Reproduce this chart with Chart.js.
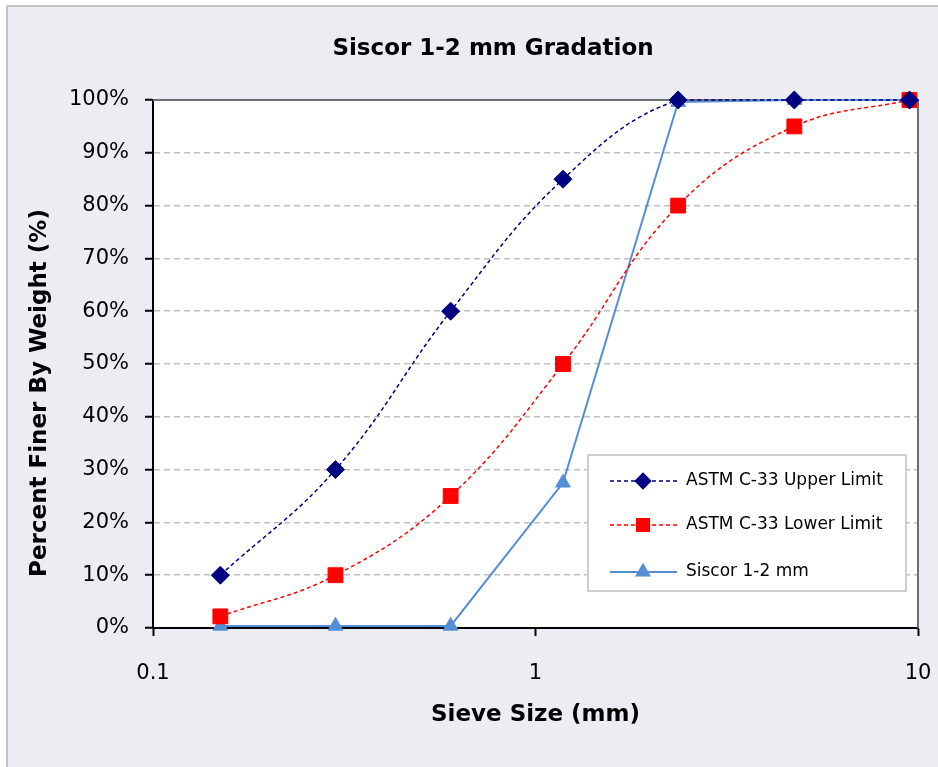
<!DOCTYPE html>
<html>
<head>
<meta charset="utf-8">
<script src="https://cdn.jsdelivr.net/npm/chart.js@4"></script>
<style>
  body { margin: 0; background: #fff; }
  #frame { position: absolute; left: 6px; top: 5px; width: 940px; height: 770px;
           background: #ECEDF3; border-left: 2px solid #C4C4C8; border-top: 2px solid #C4C4C8; }
  #wrap { position: absolute; left: 0; top: 0; width: 938px; height: 767px; }
</style>
</head>
<body>
<div id="frame"></div>
<div id="wrap"><canvas id="gradChart"></canvas></div>
<script>
// Sieve sizes (mm) and percent passing
const sieveSizes = [0.15, 0.3, 0.6, 1.18, 2.36, 4.75, 9.5];
const upperLimit = [10, 30, 60, 85, 100, 100, 100];
const lowerLimit = [2.2, 10, 25, 50, 80, 95, 100];
const siscor = [0.4, 0.4, 0.4, 27.5, 99.6, 100, 100];
const xTickValues = [0.1, 1, 10];
const yTickValues = [0, 10, 20, 30, 40, 50, 60, 70, 80, 90, 100];

const chartTitle = 'Siscor 1-2 mm Gradation';
const yTitle = 'Percent Finer By Weight (%)';
const xTitle = 'Sieve Size (mm)';

const fontFamily = "'DejaVu Sans', Verdana, sans-serif";

const toPoints = function (xs, ys) {
    let pts = [];
    for (var i = 0; i < xs.length; i++) {
        pts.push({x: xs[i], y: ys[i]});
    }
    return pts;
};

// plot area background + border, titles, and legend box inside the plot
const plotFrame = {
    id: 'plotFrame',
    beforeDraw(chart) {
        const {ctx, chartArea: a} = chart;
        ctx.save();
        ctx.fillStyle = '#fff';
        ctx.fillRect(a.left, a.top, a.right - a.left, a.bottom - a.top);
        ctx.restore();
    },
    beforeDatasetsDraw(chart) {
        const {ctx, chartArea: a} = chart;
        ctx.save();
        ctx.strokeStyle = '#6E6E6E';
        ctx.lineWidth = 2;
        ctx.beginPath();
        ctx.moveTo(a.left, a.top);
        ctx.lineTo(a.right, a.top);
        ctx.lineTo(a.right, a.bottom);
        ctx.stroke();
        ctx.restore();
    },
    afterDraw(chart) {
        const {ctx, chartArea: a} = chart;
        ctx.save();
        // chart title and y axis title
        ctx.fillStyle = '#000';
        ctx.textAlign = 'center';
        ctx.textBaseline = 'middle';
        ctx.font = 'bold 23px ' + fontFamily;
        ctx.fillText(chartTitle, a.left + 340, a.top - 51);
        ctx.save();
        ctx.translate(a.left - 113, a.top + 293);
        ctx.rotate(-Math.PI / 2);
        ctx.fillText(yTitle, 0, 0);
        ctx.restore();

        // legend
        const bx = a.right - 330, by = a.bottom - 173, bw = 318, bh = 136;
        ctx.textAlign = 'left';
        ctx.fillStyle = '#fff';
        ctx.fillRect(bx, by, bw, bh);
        ctx.strokeStyle = '#BFBFBF';
        ctx.lineWidth = 1.5;
        ctx.strokeRect(bx, by, bw, bh);
        const rows = [26, 70, 117];
        chart.data.datasets.forEach(function (ds, i) {
            const y = by + rows[i];
            ctx.strokeStyle = ds.borderColor;
            ctx.lineWidth = ds.borderWidth;
            ctx.setLineDash(ds.borderDash || []);
            ctx.beginPath();
            ctx.moveTo(bx + 22, y);
            ctx.lineTo(bx + 89, y);
            ctx.stroke();
            ctx.setLineDash([]);
            Chart.helpers.drawPoint(ctx, {
                pointStyle: ds.pointStyle, radius: ds.pointRadius * 0.85, borderWidth: 1
            }, bx + 55, y);
            ctx.fillStyle = ds.pointBackgroundColor;
            ctx.fill();
            ctx.fillStyle = '#000';
            ctx.font = '17px ' + fontFamily;
            ctx.textBaseline = 'middle';
            ctx.fillText(ds.label, bx + 98, y);
        });
        ctx.restore();
    }
};

new Chart(document.getElementById('gradChart'), {
    type: 'line',
    data: {
        datasets: [{
            label: 'ASTM C-33 Upper Limit',
            data: toPoints(sieveSizes, upperLimit),
            borderColor: '#000080',
            backgroundColor: '#000080',
            pointBackgroundColor: '#000080',
            borderWidth: 1.5,
            borderDash: [4, 3],
            pointStyle: 'rectRot',
            pointRadius: 9,
            pointBorderWidth: 1,
            tension: 0.4,
            clip: false
        }, {
            label: 'ASTM C-33 Lower Limit',
            data: toPoints(sieveSizes, lowerLimit),
            borderColor: '#FF0000',
            backgroundColor: '#FF0000',
            pointBackgroundColor: '#FF0000',
            borderWidth: 1.5,
            borderDash: [4, 3],
            pointStyle: 'rect',
            pointRadius: 10.5,
            pointBorderWidth: 1,
            tension: 0.4,
            clip: false
        }, {
            label: 'Siscor 1-2 mm',
            data: toPoints(sieveSizes, siscor),
            borderColor: '#558ED5',
            backgroundColor: '#558ED5',
            pointBackgroundColor: '#558ED5',
            borderWidth: 2,
            pointStyle: 'triangle',
            pointRadius: 8.5,
            pointBorderWidth: 1,
            tension: 0,
            clip: false
        }]
    },
    options: {
        responsive: true,
        maintainAspectRatio: false,
        animation: false,
        layout: { padding: { left: 0, right: 20, top: 100, bottom: 0 } },
        scales: {
            x: {
                type: 'logarithmic',
                min: 0.1,
                max: 10,
                afterBuildTicks: function (scale) {
                    scale.ticks = xTickValues.map(function (v) { return {value: v}; });
                },
                afterFit: function (scale) {
                    scale.height = 139;
                    scale.paddingLeft = 0;
                    scale.paddingRight = 0;
                },
                ticks: {
                    color: '#000',
                    font: { family: fontFamily, size: 21 },
                    padding: 25,
                    maxRotation: 0,
                    callback: function (v) { return String(v); }
                },
                grid: {
                    drawOnChartArea: false,
                    drawTicks: true,
                    tickLength: 8,
                    tickColor: '#000',
                    tickWidth: 2
                },
                border: { color: '#000', width: 2 },
                title: {
                    display: true,
                    text: xTitle,
                    color: '#000',
                    font: { family: fontFamily, size: 23, weight: 'bold' },
                    padding: { top: 0, bottom: 38 }
                }
            },
            y: {
                min: 0,
                max: 100,
                afterBuildTicks: function (scale) {
                    scale.ticks = yTickValues.map(function (v) { return {value: v}; });
                },
                afterFit: function (scale) {
                    scale.width = 153;
                    scale.paddingTop = 0;
                    scale.paddingBottom = 0;
                },
                ticks: {
                    color: '#000',
                    font: { family: fontFamily, size: 21 },
                    padding: 16,
                    callback: function (v) { return v + '%'; }
                },
                grid: {
                    color: function (c) { return (c.tick.value === 0 || c.tick.value === 100) ? 'rgba(0,0,0,0)' : '#C0C0C0'; },
                    lineWidth: 1.5,
                    drawTicks: true,
                    tickLength: 8,
                    tickColor: '#000',
                    tickWidth: 2,
                    tickBorderDash: []
                },
                border: { color: '#000', width: 2, dash: [6, 4] }
            }
        },
        plugins: {
            legend: { display: false },
            tooltip: { enabled: false },
            title: { display: false }
        }
    },
    plugins: [plotFrame]
});
</script>
</body>
</html>
